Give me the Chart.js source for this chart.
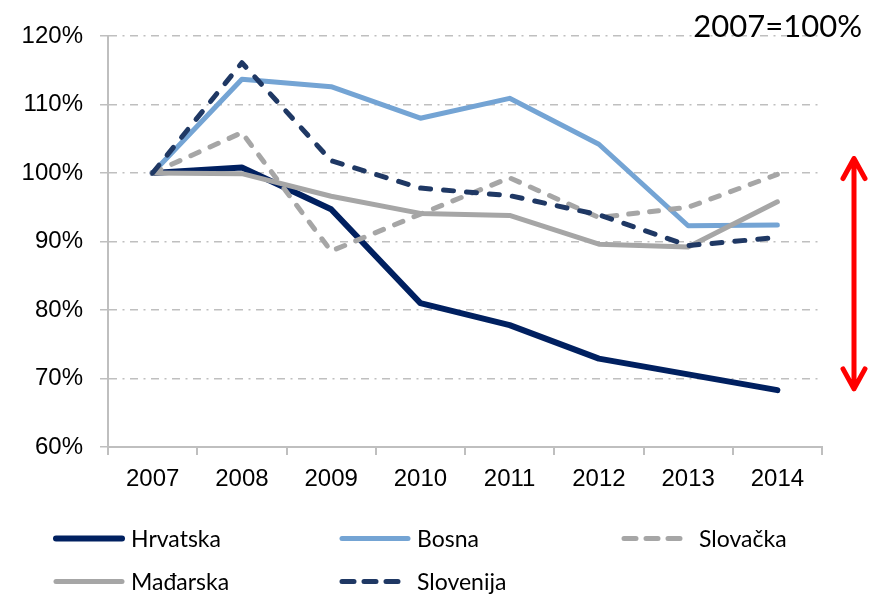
<!DOCTYPE html>
<html>
<head>
<meta charset="utf-8">
<script src="https://cdn.jsdelivr.net/npm/chart.js@4.4.1/dist/chart.umd.min.js"></script>
<style>
  html, body { margin: 0; padding: 0; background: #ffffff; }
  #wrap { position: relative; width: 870px; height: 594px; }
</style>
</head>
<body>
<div id="wrap"><canvas id="c"></canvas></div>
<script>
// ---- data ----
const years = ['2007', '2008', '2009', '2010', '2011', '2012', '2013', '2014'];
const seriesNames = ['Hrvatska', 'Bosna', 'Slovačka', 'Mađarska', 'Slovenija'];
const hrvatska = [100, 100.8, 94.7, 81.0, 77.8, 72.9, 70.6, 68.3];
const bosna    = [100, 113.7, 112.6, 108.0, 110.9, 104.2, 92.3, 92.4];
const slovacka = [100, 105.9, 88.6, 94.0, 99.3, 93.5, 95.0, 99.8];
const madarska = [100, 99.9, 96.6, 94.1, 93.8, 89.6, 89.2, 95.8];
const slovenija = [100, 116.1, 101.8, 97.8, 96.7, 93.9, 89.4, 90.6];
const yTicks = [60, 70, 80, 90, 100, 110, 120];
const baseNote = '2007=100%';
const arrowRange = [102.4, 68.2];

// ---- styles ----
const NAVY = '#002060';
const LBLUE = '#74a4d4';
const GRAY = '#a6a6a6';
const DNAVY = '#1f3864';
const AXIS = '#bfbfbf';

const datasets = [
  { label: seriesNames[0], data: hrvatska, borderColor: NAVY, borderWidth: 6, order: 5 },
  { label: seriesNames[1], data: bosna, borderColor: LBLUE, borderWidth: 5, order: 4 },
  { label: seriesNames[2], data: slovacka, borderColor: GRAY, borderWidth: 5, borderDash: [9, 12], borderCapStyle: 'round', order: 3 },
  { label: seriesNames[3], data: madarska, borderColor: GRAY, borderWidth: 5, order: 2 },
  { label: seriesNames[4], data: slovenija, borderColor: DNAVY, borderWidth: 5, borderDash: [10, 13], borderCapStyle: 'round', order: 1 }
].map(d => Object.assign({
  pointRadius: 0, pointHoverRadius: 0, tension: 0, fill: false,
  borderJoinStyle: 'round', borderCapStyle: d.borderCapStyle || 'round'
}, d));

const legendLayout = [
  { x: 53, y: 538.5, len: 72 },
  { x: 339, y: 538.5, len: 72 },
  { x: 621, y: 538.5, len: 63 },
  { x: 53, y: 581.5, len: 72 },
  { x: 339, y: 581.5, len: 62 }
];

const extras = {
  id: 'extras',
  afterDraw(chart) {
    const ctx = chart.ctx;
    const area = chart.chartArea;
    const ys = chart.scales.y;
    // note text
    ctx.save();
    ctx.fillStyle = '#000';
    ctx.font = '31px Lato, "Liberation Sans", sans-serif';
    ctx.textAlign = 'right';
    ctx.textBaseline = 'alphabetic';
    ctx.fillText(baseNote, 862, 37);
    ctx.restore();

    // red double arrow
    const ax = area.right + 32;
    const yTop = ys.getPixelForValue(arrowRange[0]);
    const yBot = ys.getPixelForValue(arrowRange[1]);
    ctx.save();
    ctx.strokeStyle = '#ff0000';
    ctx.lineWidth = 5;
    ctx.lineCap = 'round';
    ctx.lineJoin = 'round';
    ctx.beginPath();
    ctx.moveTo(ax, yTop + 2);
    ctx.lineTo(ax, yBot - 2);
    ctx.moveTo(ax - 11, yTop + 22);
    ctx.lineTo(ax, yTop + 2);
    ctx.lineTo(ax + 11, yTop + 22);
    ctx.moveTo(ax - 11, yBot - 22);
    ctx.lineTo(ax, yBot - 2);
    ctx.lineTo(ax + 11, yBot - 22);
    ctx.stroke();
    ctx.restore();

    // legend
    chart.data.datasets.forEach((ds, i) => {
      const L = legendLayout[i];
      ctx.save();
      ctx.strokeStyle = ds.borderColor;
      ctx.lineWidth = ds.borderWidth;
      ctx.lineCap = 'round';
      if (ds.borderDash) ctx.setLineDash([12, 10]);
      ctx.beginPath();
      ctx.moveTo(L.x + 3, L.y);
      ctx.lineTo(L.x + L.len - 3, L.y);
      ctx.stroke();
      ctx.setLineDash([]);
      ctx.fillStyle = '#000';
      ctx.font = '23px Lato, "Liberation Sans", sans-serif';
      ctx.textAlign = 'left';
      ctx.textBaseline = 'middle';
      ctx.fillText(ds.label, L.x + 78, L.y + 1);
      ctx.restore();
    });
  }
};

function draw() {
  new Chart(document.getElementById('c'), {
    type: 'line',
    data: { labels: years, datasets: datasets },
    options: {
      responsive: true,
      maintainAspectRatio: false,
      animation: false,
      layout: { padding: { left: 0, right: 48, top: 36, bottom: 87 } },
      plugins: { legend: { display: false }, tooltip: { enabled: false } },
      scales: {
        x: {
          offset: true,
          afterFit: s => { s.height = 60; },
          grid: { offset: true, drawOnChartArea: false, drawTicks: true, tickLength: 8, color: AXIS, lineWidth: 2 },
          border: { display: true, color: AXIS, width: 2 },
          ticks: { color: '#000', font: { family: '"Liberation Sans", Arial, sans-serif', size: 24 }, padding: 10, maxRotation: 0 }
        },
        y: {
          min: yTicks[0], max: yTicks[yTicks.length - 1],
          afterFit: s => { s.width = 108; },
          afterBuildTicks: s => { s.ticks = yTicks.map(v => ({ value: v })); },
          grid: { color: AXIS, lineWidth: 1.5, tickLength: 8, drawTicks: true },
          border: { display: true, color: AXIS, width: 2, dash: [8, 5.5, 2, 5.5] },
          ticks: { color: '#000', font: { family: '"Liberation Sans", Arial, sans-serif', size: 24 }, padding: 17, callback: v => v + '%' }
        }
      }
    },
    plugins: [extras]
  });
}

if (document.fonts && document.fonts.load) {
  Promise.all([
    document.fonts.load('23px Lato'),
    document.fonts.load('31px Lato'),
    document.fonts.load('24px "Liberation Sans"')
  ]).then(draw, draw);
} else {
  draw();
}
</script>
</body>
</html>
